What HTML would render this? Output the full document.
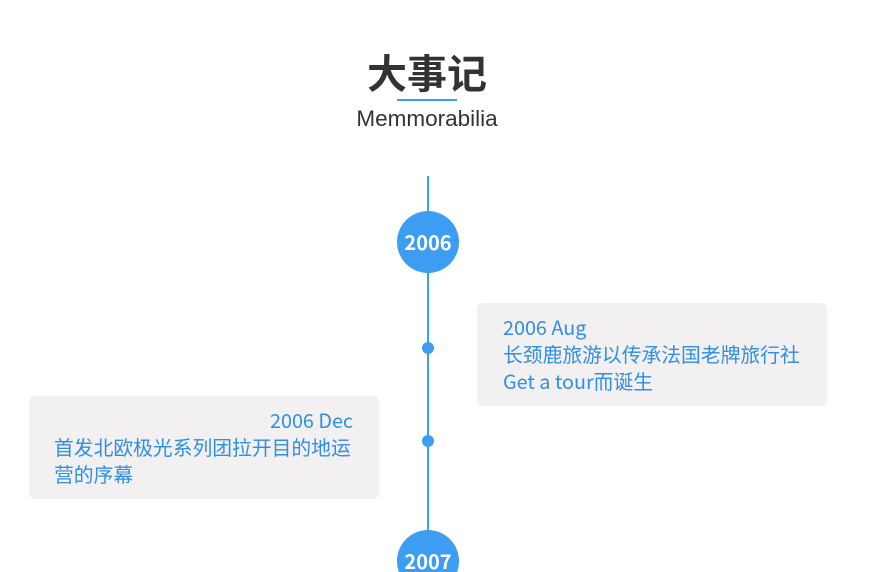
<!DOCTYPE html>
<html><head><meta charset="utf-8"><style>
html,body{margin:0;width:870px;height:572px;overflow:hidden}
body{background:#fff;position:relative;font-family:"Noto Sans CJK SC","Liberation Sans",sans-serif}
.a{position:absolute}
.t{left:0;width:870px;text-align:center}
.box{background:#f2f0f0;border-radius:6px;width:350px;height:103px;color:#2f8ee5;font-size:19.8px;line-height:27px;box-sizing:border-box}
.c{width:62px;height:62px;border-radius:50%;background:#3d9df2;color:#fff;font-weight:bold;font-size:20px;line-height:62px;text-align:center}
.d{width:12px;height:12px;border-radius:50%;background:#3d9df2}
</style></head><body>
<div class="a t" style="left:-8px;top:47px;font-size:40px;font-weight:bold;color:#333;line-height:48px">大事记</div>
<div class="a" style="left:397px;top:99px;width:60px;height:2px;background:#3d9df2"></div>
<div class="a t" style="left:-8px;top:104px;font-size:22.5px;color:#333;line-height:30px;font-family:'Liberation Sans',sans-serif">Memmorabilia</div>
<div class="a" style="left:427px;top:176px;width:2px;height:400px;background:#3d9df2"></div>
<div class="a c" style="left:397px;top:211px">2006</div>
<div class="a c" style="left:397px;top:530px">2007</div>
<div class="a d" style="left:422px;top:342px"></div>
<div class="a d" style="left:422px;top:435px"></div>
<div class="a box" style="left:477px;top:303px;padding:10px 0 0 26px">2006 Aug<br>长颈鹿旅游以传承法国老牌旅行社<br>Get a tour而诞生</div>
<div class="a box" style="left:29px;top:396px;padding:10px 26px 0 25px"><div style="text-align:right">2006 Dec</div>首发北欧极光系列团拉开目的地运营的序幕</div>
</body></html>
